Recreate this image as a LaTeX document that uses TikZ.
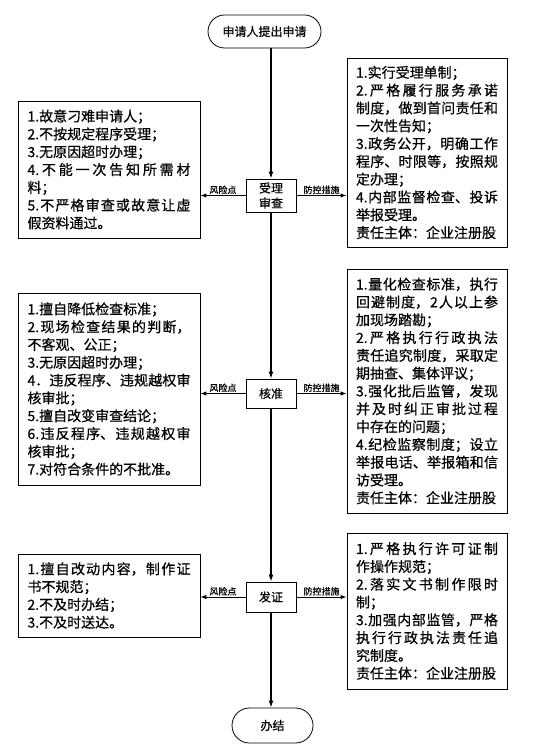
\documentclass[tikz,border=0pt]{standalone}
\usepackage{fontspec}
\setmainfont{Noto Sans CJK SC}[FakeBold=0.6]
\usetikzlibrary{arrows.meta,shapes.misc}
\XeTeXlinebreaklocale "zh"
\XeTeXlinebreakskip=0pt plus 4pt
\tikzset{
  textbox/.style={draw, line width=0.8pt, align=justify, inner xsep=0pt, inner ysep=0pt,
    font=\fontsize{14}{17.8}\selectfont\setlength\parindent{0pt}},
  leftbox/.style={textbox, text width=163pt, minimum width=182pt},
  rightbox/.style={textbox, text width=142pt, minimum width=160pt},
  procbox/.style={draw, line width=0.9pt, minimum width=50pt, inner sep=0pt, align=center,
    font=\fontsize{12}{15}\selectfont},
  termnode/.style={draw, rounded rectangle, line width=0.8pt, inner sep=0pt,
    font=\fontsize{12}{14}\selectfont},
  mainarrow/.style={line width=1.3pt, -{Latex[length=7pt,width=5pt]}},
  sidearrow/.style={line width=1pt, -{Latex[length=6pt,width=4.5pt]}},
  lab/.style={font=\fontsize{9}{10}\selectfont, inner sep=1pt}
}
\begin{document}
\begin{tikzpicture}[x=1pt,y=-1pt]
\useasboundingbox (0,0) rectangle (534,751);

% terminals
\node[termnode, minimum width=113pt, minimum height=33pt] (start) at (264.5,31.5) {申请人提出申请};
\node[termnode, minimum width=81pt, minimum height=35pt] (end) at (272.5,725.5) {办结};

% process boxes
\node[procbox, minimum height=33pt] (A) at (271,195.5) {受理\\审查};
\node[procbox, minimum height=29pt] (B) at (271,393.5) {核准};
\node[procbox, minimum height=30pt] (C) at (271,597) {发证};

% risk boxes (left)
\node[leftbox, minimum height=137pt] (L1) at (109,169.5) {%
1.故意刁难申请人；\par
2.不按规定程序受理；\par
3.无原因超时办理；\par
4.不能一次告知所需材\linebreak 料；\par
5.不严格审查或故意让虚\linebreak 假资料通过。};

\node[leftbox, minimum height=192pt] (L2) at (109,389) {%
1.擅自降低检查标准；\par
2.现场检查结果的判断，\linebreak 不客观、公正；\par
3.无原因超时办理；\par
4．违反程序、违规越权审\linebreak 核审批；\par
5.擅自改变审查结论；\par
6.违反程序、违规越权审\linebreak 核审批；\par
7.对符合条件的不批准。};

\node[leftbox, minimum height=83pt] (L3) at (109,595.5) {%
1.擅自改动内容，制作证\linebreak 书不规范；\par
2.不及时办结；\par
3.不及时送达。};

% control boxes (right)
\node[rightbox, minimum height=189pt] (R1) at (427,152.5) {%
1.实行受理单制；\par
2.严格履行服务承诺\linebreak 制度，做到首问责任和\linebreak 一次性告知；\par
3.政务公开，明确工作\linebreak 程序、时限等，按照规\linebreak 定办理；\par
4.内部监督检查、投诉\linebreak 举报受理。\par
责任主体：企业注册股};

\node[rightbox, minimum height=244pt] (R2) at (427,391) {%
1.量化检查标准，执行\linebreak 回避制度，2人以上参\linebreak 加现场踏勘；\par
2.严格执行行政执法\linebreak 责任追究制度，采取定\linebreak 期抽查、集体评议；\par
3.强化批后监管，发现\linebreak 并及时纠正审批过程\linebreak 中存在的问题；\par
4.纪检监察制度；设立\linebreak 举报电话、举报箱和信\linebreak 访受理。\par
责任主体：企业注册股};

\node[rightbox, minimum height=156pt] (R3) at (427,611) {%
1.严格执行许可证制\linebreak 作操作规范；\par
2.落实文书制作限时\linebreak 制；\par
3.加强内部监管，严格\linebreak 执行行政执法责任追\linebreak 究制度。\par
责任主体：企业注册股};

% main flow
\draw[mainarrow] (start.south -| A.north) -- (A.north);
\draw[mainarrow] (A.south) -- (B.north);
\draw[mainarrow] (B.south) -- (C.north);
\draw[mainarrow] (C.south) -- (C.south |- end.north);

% side arrows
\foreach \p/\l/\r in {A/L1/R1, B/L2/R2, C/L3/R3}{
  \draw[sidearrow] (\p.west) -- node[lab, above]{风险点} (\p.west -| \l.east);
  \draw[sidearrow] (\p.east) -- node[lab, above]{防控措施} (\p.east -| \r.west);
}
\end{tikzpicture}
\end{document}
